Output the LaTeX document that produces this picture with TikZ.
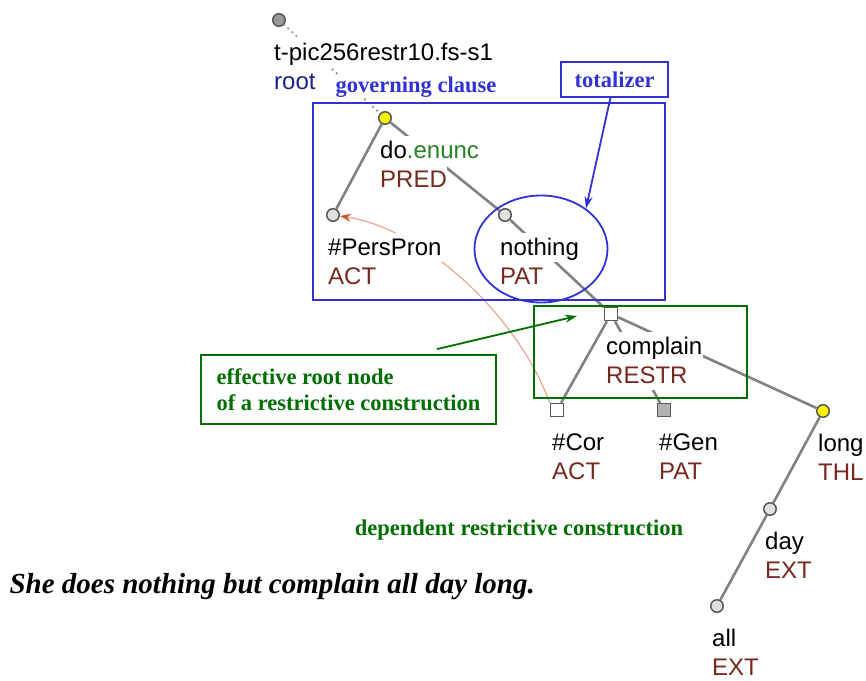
\documentclass[tikz,border=0pt]{standalone}
\usepackage{fontspec}
\setmainfont{Liberation Sans}
\newfontfamily\annfont{Liberation Serif}
\usetikzlibrary{shapes.geometric,arrows.meta}
\definecolor{annblue}{RGB}{50,50,210}
\definecolor{rootblue}{RGB}{30,30,140}
\definecolor{anngreen}{RGB}{0,110,0}
\definecolor{funcbrown}{RGB}{120,40,30}
\definecolor{enuncgreen}{RGB}{40,130,40}
\definecolor{edgegray}{RGB}{130,130,130}
\definecolor{corline}{RGB}{232,165,145}
\definecolor{corhead}{RGB}{205,90,50}
\newcommand{\lline}[1]{{\setlength{\fboxsep}{0.5pt}\colorbox{white}{\rule[-6pt]{0pt}{28pt}#1}}}
\newcommand{\func}[1]{\lline{\textcolor{funcbrown}{#1}}}
\begin{document}
\begin{tikzpicture}[x=1pt, y=-1pt,
    tnode/.style={circle, draw=black!65, fill=black!12, line width=1.5pt, minimum size=12.5pt, inner sep=0pt},
    snode/.style={rectangle, draw=black!65, fill=white, line width=1.5pt, minimum size=13pt, inner sep=0pt},
    lbl/.style={anchor=north west, align=left, inner sep=0pt, font=\fontsize{24}{29}\selectfont},
    edge/.style={draw=edgegray, line width=2.6pt},
    ann/.style={font=\annfont\bfseries\fontsize{22.5}{26}\selectfont}]
    \useasboundingbox (0,0) rectangle (866,680);

    \node[tnode, fill=black!40] (root) at (279,20) {};
    \node[tnode, fill=yellow] (do) at (385,118) {};
    \node[tnode] (persp) at (333,215) {};
    \node[tnode] (nothing) at (505,215) {};
    \node[snode] (complain) at (611,314) {};
    \node[snode] (cor) at (557,410) {};
    \node[snode, fill=black!30] (gen) at (664,410) {};
    \node[tnode, fill=yellow] (long) at (823,411) {};
    \node[tnode] (day) at (770,509) {};
    \node[tnode] (all) at (717,606) {};

    \draw[draw=black!45, line width=2.4pt, line cap=round, dash pattern=on 0pt off 5.5pt] (root) -- (do);
    \draw[edge] (do) -- (persp);
    \draw[edge] (do) -- (nothing);
    \draw[edge] (nothing) -- (complain);
    \draw[edge] (complain) -- (cor);
    \draw[edge] (complain) -- (gen);
    \draw[edge] (complain) -- (long);
    \draw[edge] (long) -- (day);
    \draw[edge] (day) -- (all);
    \draw[draw=corline, line width=1.2pt, -{Stealth[length=11pt, width=8pt, color=corhead]}]
        (cor.north west) .. controls (515,310) and (420,228) .. (persp);

    \node[lbl] (root-l) at ([shift={(-5.5,17.5)}]root.center) {\lline{t-pic256restr10.fs-s1}\\\lline{\textcolor{rootblue}{root}}};
    \node[lbl] (do-l) at ([shift={(-5.5,17.5)}]do.center) {\lline{do\textcolor{enuncgreen}{.enunc}}\\\func{PRED}};
    \node[lbl] (persp-l) at ([shift={(-5.5,17.5)}]persp.center) {\lline{\#PersPron}\\\func{ACT}};
    \node[lbl] (nothing-l) at ([shift={(-5.5,17.5)}]nothing.center) {\lline{nothing}\\\func{PAT}};
    \node[lbl] (complain-l) at ([shift={(-5.5,17.5)}]complain.center) {\lline{complain}\\\func{RESTR}};
    \node[lbl] (cor-l) at ([shift={(-5.5,17.5)}]cor.center) {\lline{\#Cor}\\\func{ACT}};
    \node[lbl] (gen-l) at ([shift={(-5.5,17.5)}]gen.center) {\lline{\#Gen}\\\func{PAT}};
    \node[lbl] (long-l) at ([shift={(-5.5,17.5)}]long.center) {\lline{long}\\\func{THL}};
    \node[lbl] (day-l) at ([shift={(-5.5,17.5)}]day.center) {\lline{day}\\\func{EXT}};
    \node[lbl] (all-l) at ([shift={(-5.5,17.5)}]all.center) {\lline{all}\\\func{EXT}};

    \node[ann, text=annblue, fill=white, inner sep=1pt] (gov-l) at (416,87) {governing clause};
    \draw[annblue, line width=1.8pt] (313,103) rectangle (665,300);
    \node[draw=annblue, line width=1.8pt, ellipse, minimum width=133pt, minimum height=107pt] (tot) at (541,249) {};
    \node[ann, text=annblue, draw=annblue, line width=1.8pt, minimum width=107pt, minimum height=35pt] (tot-l) at (614.5,79.5) {totalizer};
    \draw[annblue, line width=1.8pt, -{Stealth[length=12pt, width=8pt]}] (tot-l) -- (tot.42);

    \draw[anngreen, line width=1.8pt] (534,306) rectangle (747,398);
    \node[ann, text=anngreen, draw=anngreen, line width=1.8pt, align=left, minimum width=295pt, minimum height=69pt] (eff-l) at (348.5,389.5) {effective root node\\of a restrictive construction};
    \coordinate (restr-pt) at (577,316);
    \draw[anngreen, line width=1.8pt, -{Stealth[length=12pt, width=8pt]}] ([shift={(88.5,-5)}]eff-l.north) -- (restr-pt);

    \node[ann, text=anngreen] (dep-l) at (519,530) {dependent restrictive construction};
    \node[anchor=west, font=\annfont\bfseries\itshape\fontsize{29}{34}\selectfont] (sent) at (6,587) {She does nothing but complain all day long.};
\end{tikzpicture}
\end{document}
